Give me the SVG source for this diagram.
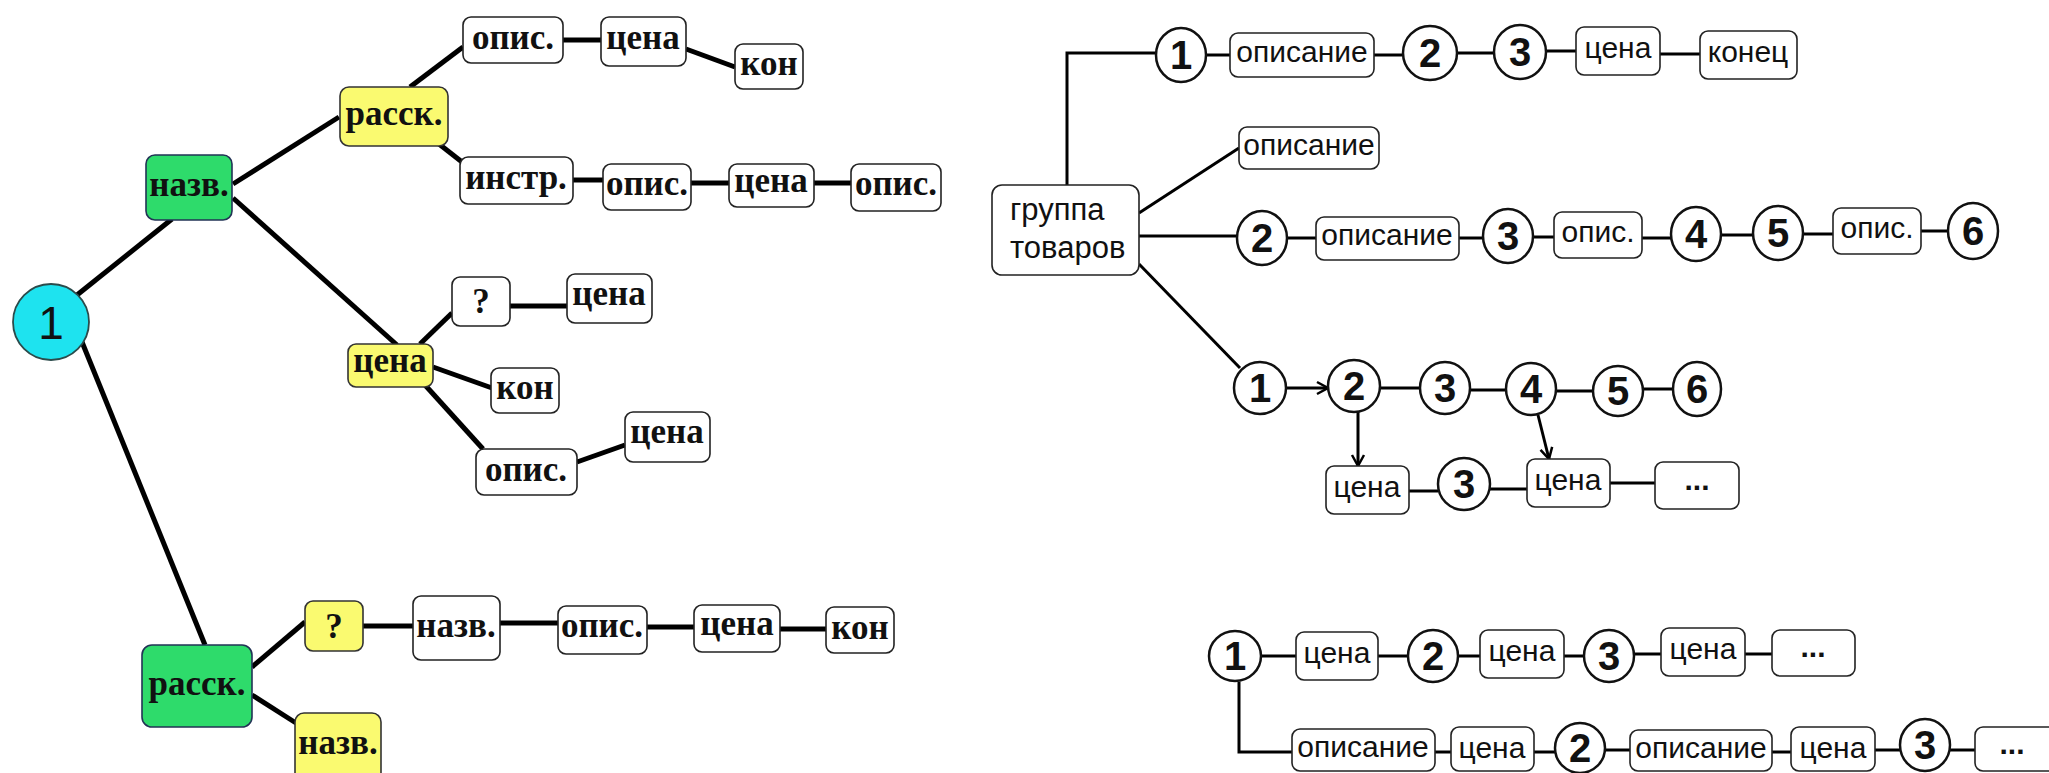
<svg xmlns="http://www.w3.org/2000/svg" width="2049" height="773" viewBox="0 0 2049 773">
<defs>
<style>
.bw{fill:#fff;stroke:#222;stroke-width:1.6}
.by{fill:#fafa70;stroke:#333;stroke-width:1.6}
.bg{fill:#2edb6b;stroke:#235;stroke-width:1.6}
.tl{font-family:"Liberation Serif","Times New Roman",serif;font-weight:bold;font-size:35px;fill:#111;text-anchor:middle}
.tr{font-family:"Liberation Sans",Arial,sans-serif;font-size:30px;fill:#111;text-anchor:middle}
.tn{font-family:"Liberation Sans",Arial,sans-serif;font-weight:bold;font-size:40px;fill:#111;text-anchor:middle}
.cc{fill:#fff;stroke:#111;stroke-width:2.5}
.ll{stroke:#000;stroke-width:5;fill:none}
.rl{stroke:#000;stroke-width:3;fill:none}
.ra{stroke:#000;stroke-width:3;fill:none;marker-end:url(#arr)}
</style>
<marker id="arr" markerUnits="userSpaceOnUse" markerWidth="16" markerHeight="16" refX="13" refY="8" orient="auto" viewBox="0 0 16 16">
<path d="M2,2 L13,8 L2,14" fill="none" stroke="#000" stroke-width="2.5"/>
</marker>
</defs>
<rect width="2049" height="773" fill="#fff"/>

<g id="connectors">
<line class="ll" x1="77" y1="295" x2="172" y2="219"/>
<line class="ll" x1="82" y1="342" x2="205" y2="645"/>
<line class="ll" x1="233" y1="184" x2="339" y2="117"/>
<line class="ll" x1="233" y1="198" x2="397" y2="345"/>
<line class="ll" x1="410" y1="87" x2="463" y2="47"/>
<line class="ll" x1="563" y1="40" x2="601" y2="40"/>
<line class="ll" x1="686" y1="49" x2="735" y2="67"/>
<line class="ll" x1="439" y1="144" x2="462" y2="162"/>
<line class="ll" x1="573" y1="180" x2="603" y2="180"/>
<line class="ll" x1="691" y1="183" x2="729" y2="183"/>
<line class="ll" x1="814" y1="183" x2="851" y2="183"/>
<line class="ll" x1="420" y1="344" x2="452" y2="313"/>
<line class="ll" x1="510" y1="306" x2="567" y2="306"/>
<line class="ll" x1="433" y1="367" x2="492" y2="388"/>
<line class="ll" x1="425" y1="385" x2="483" y2="449"/>
<line class="ll" x1="577" y1="462" x2="625" y2="445"/>
<line class="ll" x1="252" y1="667" x2="305" y2="622"/>
<line class="ll" x1="252" y1="695" x2="296" y2="723"/>
<line class="ll" x1="363" y1="626" x2="413" y2="626"/>
<line class="ll" x1="500" y1="623" x2="558" y2="623"/>
<line class="ll" x1="647" y1="627" x2="694" y2="627"/>
<line class="ll" x1="780" y1="629" x2="826" y2="629"/>
<polyline class="rl" points="1067,185 1067,53 1156,53"/>
<line class="rl" x1="1206" y1="55" x2="1230" y2="55"/>
<line class="rl" x1="1374" y1="55" x2="1402" y2="55"/>
<line class="rl" x1="1458" y1="53" x2="1495" y2="53"/>
<line class="rl" x1="1545" y1="51" x2="1576" y2="51"/>
<line class="rl" x1="1660" y1="54" x2="1700" y2="54"/>
<line class="rl" x1="1139" y1="213" x2="1239" y2="148"/>
<line class="rl" x1="1139" y1="236" x2="1237" y2="236"/>
<line class="rl" x1="1287" y1="238" x2="1316" y2="238"/>
<line class="rl" x1="1459" y1="238" x2="1483" y2="238"/>
<line class="rl" x1="1533" y1="237" x2="1554" y2="237"/>
<line class="rl" x1="1642" y1="238" x2="1671" y2="238"/>
<line class="rl" x1="1721" y1="235" x2="1753" y2="235"/>
<line class="rl" x1="1803" y1="234" x2="1833" y2="234"/>
<line class="rl" x1="1921" y1="231" x2="1948" y2="231"/>
<line class="rl" x1="1139" y1="264" x2="1240" y2="368"/>
<line class="ra" x1="1286" y1="388" x2="1328" y2="388"/>
<line class="rl" x1="1380" y1="388" x2="1420" y2="388"/>
<line class="rl" x1="1470" y1="390" x2="1507" y2="390"/>
<line class="rl" x1="1556" y1="391" x2="1593" y2="391"/>
<line class="rl" x1="1643" y1="389" x2="1673" y2="389"/>
<line class="ra" x1="1358" y1="412" x2="1358" y2="466"/>
<line class="ra" x1="1538" y1="415" x2="1549" y2="459"/>
<line class="rl" x1="1409" y1="491" x2="1438" y2="491"/>
<line class="rl" x1="1490" y1="489" x2="1527" y2="489"/>
<line class="rl" x1="1610" y1="483" x2="1655" y2="483"/>
<line class="rl" x1="1261" y1="656" x2="1296" y2="656"/>
<line class="rl" x1="1378" y1="656" x2="1409" y2="656"/>
<line class="rl" x1="1458" y1="656" x2="1480" y2="656"/>
<line class="rl" x1="1564" y1="656" x2="1585" y2="656"/>
<line class="rl" x1="1634" y1="654" x2="1661" y2="654"/>
<line class="rl" x1="1745" y1="654" x2="1772" y2="654"/>
<polyline class="rl" points="1239,682 1239,752 1292,752"/>
<line class="rl" x1="1435" y1="752" x2="1451" y2="752"/>
<line class="rl" x1="1534" y1="752" x2="1556" y2="752"/>
<line class="rl" x1="1605" y1="750" x2="1630" y2="750"/>
<line class="rl" x1="1772" y1="752" x2="1791" y2="752"/>
<line class="rl" x1="1875" y1="750" x2="1901" y2="750"/>
<line class="rl" x1="1950" y1="750" x2="1975" y2="750"/>
</g>

<g id="l_one"><circle cx="51" cy="322" r="38" fill="#1ee3ef" stroke="#2b4b4b" stroke-width="1.8"/><text x="51" y="339" class="tn" style="font-size:46px;font-weight:normal">1</text></g>
<g id="l_nazv1"><rect class="bg" x="146" y="155" width="86" height="65" rx="9"/><text class="tl" x="189" y="196">назв.</text></g>
<g id="l_rassk1"><rect class="by" x="340" y="87" width="108" height="59" rx="9"/><text class="tl" x="394" y="125">расск.</text></g>
<g id="l_opis1"><rect class="bw" x="463" y="17" width="100" height="46" rx="8"/><text class="tl" x="513" y="49">опис.</text></g>
<g id="l_cena1"><rect class="bw" x="601" y="17" width="85" height="49" rx="8"/><text class="tl" x="643" y="49">цена</text></g>
<g id="l_kon1"><rect class="bw" x="735" y="44" width="68" height="45" rx="8"/><text class="tl" x="769" y="75">кон</text></g>
<g id="l_instr"><rect class="bw" x="460" y="157" width="113" height="47" rx="8"/><text class="tl" x="516" y="189">инстр.</text></g>
<g id="l_opis2"><rect class="bw" x="603" y="164" width="88" height="46" rx="8"/><text class="tl" x="647" y="195">опис.</text></g>
<g id="l_cena2"><rect class="bw" x="729" y="164" width="85" height="43" rx="8"/><text class="tl" x="771" y="192">цена</text></g>
<g id="l_opis3"><rect class="bw" x="851" y="164" width="90" height="47" rx="8"/><text class="tl" x="896" y="195">опис.</text></g>
<g id="l_cena_y"><rect class="by" x="348" y="344" width="85" height="43" rx="8"/><text class="tl" x="390" y="372">цена</text></g>
<g id="l_q1"><rect class="bw" x="452" y="277" width="58" height="49" rx="8"/><text class="tl" x="481" y="313">?</text></g>
<g id="l_cena3"><rect class="bw" x="567" y="274" width="85" height="49" rx="8"/><text class="tl" x="609" y="305">цена</text></g>
<g id="l_kon2"><rect class="bw" x="491" y="368" width="68" height="45" rx="8"/><text class="tl" x="525" y="399">кон</text></g>
<g id="l_opis4"><rect class="bw" x="476" y="449" width="101" height="46" rx="8"/><text class="tl" x="526" y="481">опис.</text></g>
<g id="l_cena4"><rect class="bw" x="625" y="412" width="85" height="50" rx="8"/><text class="tl" x="667" y="443">цена</text></g>
<g id="l_rassk2"><rect class="bg" x="142" y="645" width="110" height="82" rx="10"/><text class="tl" x="197" y="695">расск.</text></g>
<g id="l_q2"><rect class="by" x="305" y="601" width="58" height="50" rx="8"/><text class="tl" x="334" y="638">?</text></g>
<g id="l_nazv2"><rect class="by" x="295" y="713" width="86" height="72" rx="9"/><text class="tl" x="338" y="754">назв.</text></g>
<g id="l_nazv3"><rect class="bw" x="413" y="596" width="87" height="64" rx="8"/><text class="tl" x="456" y="637">назв.</text></g>
<g id="l_opis5"><rect class="bw" x="558" y="606" width="89" height="48" rx="8"/><text class="tl" x="602" y="637">опис.</text></g>
<g id="l_cena5"><rect class="bw" x="694" y="605" width="86" height="47" rx="8"/><text class="tl" x="737" y="635">цена</text></g>
<g id="l_kon3"><rect class="bw" x="826" y="607" width="68" height="46" rx="8"/><text class="tl" x="860" y="639">кон</text></g>

<g id="r_group"><rect class="bw" x="992" y="185" width="147" height="90" rx="10"/><text class="tr" x="1010" y="220" style="text-anchor:start;font-size:31px">группа</text><text class="tr" x="1010" y="258" style="text-anchor:start;font-size:31px">товаров</text></g>
<g id="r_t1"><ellipse class="cc" cx="1181" cy="55" rx="25" ry="27"/><text class="tn" x="1181" y="69">1</text></g>
<g id="r_t_opis"><rect class="bw" x="1230" y="33" width="144" height="44" rx="8"/><text class="tr" x="1302" y="62">описание</text></g>
<g id="r_t2"><ellipse class="cc" cx="1430" cy="53" rx="27" ry="27"/><text class="tn" x="1430" y="67">2</text></g>
<g id="r_t3"><ellipse class="cc" cx="1520" cy="52" rx="26" ry="27"/><text class="tn" x="1520" y="66">3</text></g>
<g id="r_t_cena"><rect class="bw" x="1576" y="27" width="84" height="48" rx="8"/><text class="tr" x="1618" y="58">цена</text></g>
<g id="r_t_konec"><rect class="bw" x="1700" y="31" width="97" height="48" rx="8"/><text class="tr" x="1748" y="62">конец</text></g>
<g id="r_s_opis"><rect class="bw" x="1239" y="127" width="140" height="42" rx="8"/><text class="tr" x="1309" y="155">описание</text></g>
<g id="r_m2"><ellipse class="cc" cx="1262" cy="238" rx="25" ry="27"/><text class="tn" x="1262" y="252">2</text></g>
<g id="r_m_opis"><rect class="bw" x="1316" y="217" width="143" height="43" rx="8"/><text class="tr" x="1387" y="245">описание</text></g>
<g id="r_m3"><ellipse class="cc" cx="1508" cy="236" rx="25" ry="27"/><text class="tn" x="1508" y="250">3</text></g>
<g id="r_m_opis1"><rect class="bw" x="1554" y="212" width="88" height="46" rx="8"/><text class="tr" x="1598" y="242">опис.</text></g>
<g id="r_m4"><ellipse class="cc" cx="1696" cy="234" rx="25" ry="27"/><text class="tn" x="1696" y="248">4</text></g>
<g id="r_m5"><ellipse class="cc" cx="1778" cy="233" rx="25" ry="27"/><text class="tn" x="1778" y="247">5</text></g>
<g id="r_m_opis2"><rect class="bw" x="1833" y="208" width="88" height="46" rx="8"/><text class="tr" x="1877" y="238">опис.</text></g>
<g id="r_m6"><ellipse class="cc" cx="1973" cy="231" rx="25" ry="28"/><text class="tn" x="1973" y="245">6</text></g>

<g id="r_b1"><ellipse class="cc" cx="1260" cy="388" rx="26" ry="26"/><text class="tn" x="1260" y="402">1</text></g>
<g id="r_b2"><ellipse class="cc" cx="1354" cy="386" rx="26" ry="26"/><text class="tn" x="1354" y="400">2</text></g>
<g id="r_b3"><ellipse class="cc" cx="1445" cy="388" rx="25" ry="26"/><text class="tn" x="1445" y="402">3</text></g>
<g id="r_b4"><ellipse class="cc" cx="1531" cy="389" rx="25" ry="26"/><text class="tn" x="1531" y="403">4</text></g>
<g id="r_b5"><ellipse class="cc" cx="1618" cy="391" rx="25" ry="25"/><text class="tn" x="1618" y="405">5</text></g>
<g id="r_b6"><ellipse class="cc" cx="1697" cy="389" rx="24" ry="27"/><text class="tn" x="1697" y="403">6</text></g>
<g id="r_b_cena1"><rect class="bw" x="1326" y="466" width="83" height="48" rx="8"/><text class="tr" x="1367" y="497">цена</text></g>
<g id="r_b_3"><ellipse class="cc" cx="1464" cy="484" rx="26" ry="26"/><text class="tn" x="1464" y="498">3</text></g>
<g id="r_b_cena2"><rect class="bw" x="1527" y="459" width="83" height="48" rx="8"/><text class="tr" x="1568" y="490">цена</text></g>
<g id="r_b_dots"><rect class="bw" x="1655" y="462" width="84" height="47" rx="8"/><text class="tr" x="1697" y="490" style="font-weight:bold">...</text></g>

<g id="r_c1"><ellipse class="cc" cx="1235" cy="656" rx="26" ry="25"/><text class="tn" x="1235" y="670">1</text></g>
<g id="r_c_cena1"><rect class="bw" x="1296" y="632" width="82" height="48" rx="8"/><text class="tr" x="1337" y="663">цена</text></g>
<g id="r_c2"><ellipse class="cc" cx="1433" cy="656" rx="25" ry="26"/><text class="tn" x="1433" y="670">2</text></g>
<g id="r_c_cena2"><rect class="bw" x="1480" y="630" width="84" height="48" rx="8"/><text class="tr" x="1522" y="661">цена</text></g>
<g id="r_c3"><ellipse class="cc" cx="1609" cy="656" rx="25" ry="26"/><text class="tn" x="1609" y="670">3</text></g>
<g id="r_c_cena3"><rect class="bw" x="1661" y="628" width="84" height="48" rx="8"/><text class="tr" x="1703" y="659">цена</text></g>
<g id="r_c_dots"><rect class="bw" x="1772" y="630" width="83" height="46" rx="8"/><text class="tr" x="1813" y="657" style="font-weight:bold">...</text></g>
<g id="r_d_opis1"><rect class="bw" x="1292" y="729" width="143" height="42" rx="8"/><text class="tr" x="1363" y="757">описание</text></g>
<g id="r_d_cena1"><rect class="bw" x="1451" y="727" width="83" height="44" rx="8"/><text class="tr" x="1492" y="758">цена</text></g>
<g id="r_d2"><ellipse class="cc" cx="1580" cy="748" rx="25" ry="25"/><text class="tn" x="1580" y="762">2</text></g>
<g id="r_d_opis2"><rect class="bw" x="1630" y="730" width="142" height="41" rx="8"/><text class="tr" x="1701" y="758">описание</text></g>
<g id="r_d_cena2"><rect class="bw" x="1791" y="727" width="84" height="44" rx="8"/><text class="tr" x="1833" y="758">цена</text></g>
<g id="r_d3"><ellipse class="cc" cx="1925" cy="745" rx="25" ry="26"/><text class="tn" x="1925" y="759">3</text></g>
<g id="r_d_dots"><rect class="bw" x="1975" y="727" width="90" height="44" rx="8"/><text class="tr" x="2012" y="754" style="font-weight:bold">...</text></g>
</svg>
